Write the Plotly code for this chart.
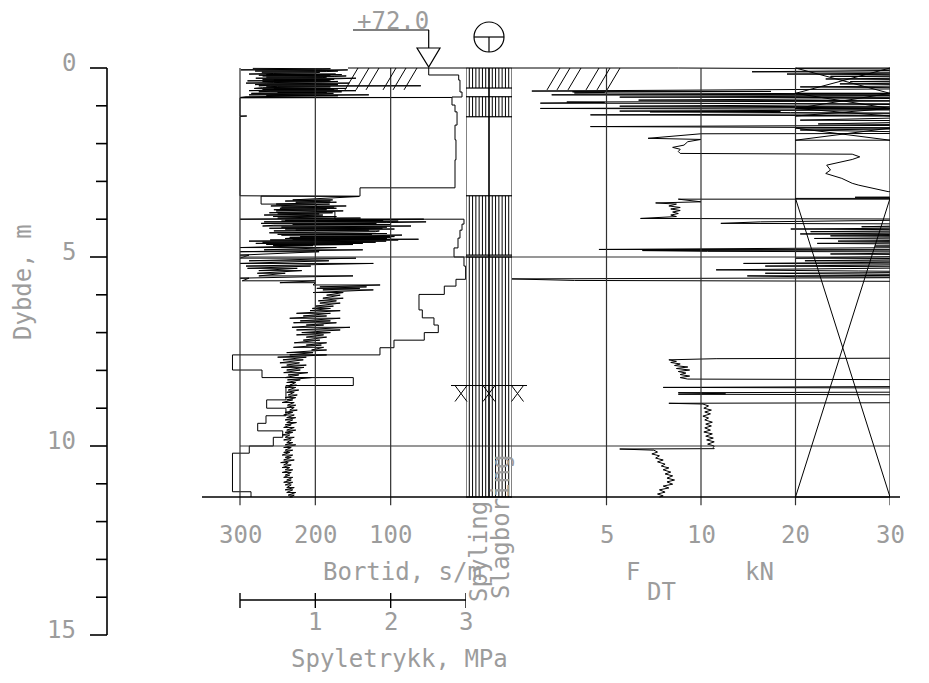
import plotly.graph_objects as go

W, H = 929, 683
ROW0, PPM = 68.0, 37.8          # pixel row of depth 0, pixels per metre


def px(x):
    return x / W


def py(y):
    return 1 - y / H


# ---------------- data ----------------
depth_major = [0, 5, 10, 15]
depth_minor = list(range(0, 16))
hole_bottom = 11.35
tick_depth = 11.57

# Bortid (s/m) step curve: value holds from each depth down to the next
bortid_depth = [0.00, 0.185, 0.32, 0.635, 0.767, 0.98, 1.16, 1.51, 1.90, 2.43,
                3.17, 3.39, 3.60, 3.80, 4.00, 4.13, 4.29, 4.50, 4.76, 5.00,
                5.24, 5.59, 5.77, 5.99, 6.40, 6.61, 6.80, 7.00, 7.20, 7.40,
                7.59, 7.99, 8.19, 8.40, 8.78, 9.00, 9.20, 9.40, 9.60, 9.77,
                10.00, 10.19, 11.21, 11.35]
bortid_value = [49.5, 9.7, 8.0, 5.3, 18.6, 14.6, 11.9, 14.6, 13.3, 14.6,
                140.7, 272, 199, 174, 2.7, 5.3, 8.0, 10.6, 15.9, 2.7,
                0.5, 13.3, 28.8, 62.4, 58, 42.5, 36.8, 55.4, 95.6, 114.2,
                310, 270.8, 149.6, 239, 264.6, 239, 265.5, 276.5, 243.3, 255.8,
                287.7, 310, 285.4, 285.4]

# Spyletrykk (MPa): swing at each logged depth (depth, low, high)
spyle_upper = [
    (0.01, 0.17, 0.94), (0.02, 0.40, 1.20), (0.03, 0.35, 1.10), (0.05, 0.01, 1.43),
    (0.065, 0.45, 1.25), (0.08, 0.20, 1.30), (0.095, 0.30, 1.15), (0.11, 0.29, 1.06),
    (0.13, 0.40, 1.00), (0.145, 0.45, 1.20), (0.16, 0.12, 1.27), (0.175, 0.35, 1.35),
    (0.19, 0.25, 1.20), (0.21, 0.30, 1.41), (0.225, 0.40, 1.25), (0.24, 0.35, 1.15),
    (0.255, 0.45, 1.10), (0.27, 0.21, 1.54), (0.285, 0.35, 1.30), (0.30, 0.30, 1.25),
    (0.32, 0.45, 1.20), (0.34, 0.10, 1.18), (0.355, 0.30, 1.30), (0.37, 0.40, 1.10),
    (0.385, 0.45, 1.25), (0.40, 0.08, 1.45), (0.42, 0.35, 1.20), (0.44, 0.20, 1.30),
    (0.455, 0.40, 1.35), (0.47, 0.25, 2.40), (0.485, 0.50, 1.10), (0.50, 0.35, 1.20),
    (0.52, 0.30, 1.25), (0.54, 0.19, 1.41), (0.555, 0.45, 1.30), (0.57, 0.30, 1.25),
    (0.585, 0.35, 1.20), (0.60, 0.12, 1.54), (0.615, 0.40, 1.30), (0.63, 0.25, 1.35),
    (0.65, 0.50, 1.15), (0.67, 0.15, 1.24), (0.69, 0.40, 1.10), (0.71, 0.12, 1.71),
    (0.735, 0.35, 1.30), (0.76, 0.08, 1.24), (0.78, 0.00, 2.81), (0.79, 0.00, 0.00),
    (1.26, 0.00, 0.00), (1.27, 0.00, 0.09), (1.28, 0.00, 0.00), (3.38, 0.00, 0.00),
]
spyle_middle = [
    (3.40, 0.97, 1.58), (3.49, 0.70, 1.23), (3.52, 0.60, 1.20), (3.55, 0.74, 1.28),
    (3.60, 0.48, 1.19), (3.65, 0.41, 1.41), (3.68, 0.55, 1.25), (3.71, 0.53, 1.28),
    (3.75, 0.45, 1.15), (3.78, 0.48, 1.37), (3.83, 0.39, 1.23), (3.86, 0.50, 1.05),
    (3.89, 0.32, 1.10), (3.93, 0.44, 1.28), (3.97, 0.50, 1.60), (4.00, 0.00, 2.44),
    (4.03, 0.60, 1.90), (4.05, 0.55, 2.10), (4.07, 0.32, 2.47), (4.09, 0.65, 1.95),
    (4.11, 0.28, 1.81), (4.14, 0.70, 2.00), (4.16, 0.45, 2.15), (4.18, 0.30, 2.27),
    (4.21, 0.55, 1.95), (4.24, 0.39, 1.89), (4.26, 0.60, 2.05), (4.29, 0.74, 1.71),
    (4.31, 0.45, 1.85), (4.33, 0.65, 1.80), (4.36, 0.39, 1.89), (4.38, 0.70, 1.95),
    (4.40, 0.50, 1.75), (4.42, 0.55, 2.15), (4.44, 0.61, 1.70), (4.46, 0.80, 2.05),
    (4.48, 0.66, 2.00), (4.50, 0.72, 1.73), (4.51, 0.60, 1.95), (4.53, 0.70, 2.37),
    (4.55, 0.40, 2.10), (4.58, 0.12, 1.94), (4.61, 0.30, 1.80), (4.64, 0.21, 1.63),
    (4.67, 0.35, 1.50), (4.70, 0.44, 0.97), (4.75, 0.00, 1.28), (4.81, 0.32, 1.63),
    (4.86, 0.00, 1.05), (4.95, 0.00, 0.12), (5.03, 0.00, 1.54), (5.10, 0.12, 1.18),
    (5.17, 0.00, 1.77), (5.24, 0.08, 0.94), (5.30, 0.10, 0.76), (5.36, 0.25, 0.82),
    (5.43, 0.23, 0.60), (5.50, 0.25, 1.50), (5.56, 0.00, 0.12), (5.63, 0.03, 1.00),
    (5.68, 0.53, 1.00),
]
spyle_lower = [
    (5.74, 0.97, 1.86), (5.79, 1.06, 1.68), (5.83, 1.02, 1.59), (5.87, 1.10, 1.77),
    (5.94, 0.97, 1.37), (6.01, 1.15, 1.33), (6.09, 1.10, 1.37), (6.16, 1.04, 1.28),
    (6.22, 1.06, 1.33), (6.30, 1.00, 1.24), (6.36, 0.96, 1.20), (6.42, 0.93, 1.33),
    (6.49, 0.75, 1.20), (6.56, 0.84, 1.15), (6.62, 0.66, 1.33), (6.69, 0.80, 1.20),
    (6.74, 0.71, 1.28), (6.80, 0.88, 1.11), (6.86, 0.69, 1.46), (6.93, 0.75, 1.33),
    (7.00, 0.82, 1.20), (7.06, 0.75, 1.11), (7.12, 0.88, 1.15), (7.20, 0.84, 1.06),
    (7.27, 0.72, 1.15), (7.33, 0.88, 1.08), (7.39, 0.71, 1.11), (7.46, 0.95, 1.15),
    (7.53, 0.62, 0.97), (7.59, 0.66, 1.15), (7.65, 0.50, 0.88), (7.72, 0.57, 0.84),
    (7.80, 0.53, 0.79), (7.86, 0.62, 0.88),
]
spyle_bottom = [
    (7.92, 0.55, 0.85), (7.99, 0.62, 0.80), (8.06, 0.58, 0.90), (8.12, 0.64, 0.78),
    (8.19, 0.60, 0.95), (8.25, 0.63, 0.80), (8.32, 0.62, 0.74), (8.39, 0.66, 0.75),
    (8.45, 0.60, 0.74), (8.52, 0.64, 0.78), (8.58, 0.62, 0.72), (8.65, 0.64, 0.76),
    (8.72, 0.60, 0.74), (8.78, 0.62, 0.70), (8.85, 0.56, 0.72), (8.92, 0.63, 0.74),
    (8.98, 0.62, 0.72), (9.05, 0.66, 0.76), (9.11, 0.60, 0.70), (9.18, 0.58, 0.72),
    (9.25, 0.62, 0.74), (9.31, 0.60, 0.70), (9.38, 0.62, 0.75), (9.44, 0.60, 0.68),
    (9.51, 0.58, 0.72), (9.58, 0.62, 0.74), (9.64, 0.60, 0.70), (9.71, 0.56, 0.66),
    (9.77, 0.60, 0.72), (9.84, 0.58, 0.68), (9.91, 0.62, 0.70), (9.97, 0.60, 0.74),
    (10.04, 0.58, 0.68), (10.11, 0.60, 0.70), (10.17, 0.58, 0.66), (10.24, 0.56, 0.70),
    (10.30, 0.60, 0.68), (10.37, 0.58, 0.72), (10.44, 0.54, 0.64), (10.50, 0.58, 0.68),
    (10.57, 0.56, 0.66), (10.63, 0.60, 0.70), (10.70, 0.56, 0.68), (10.77, 0.60, 0.66),
    (10.83, 0.58, 0.70), (10.90, 0.62, 0.68), (10.96, 0.58, 0.70), (11.03, 0.60, 0.68),
    (11.10, 0.62, 0.72), (11.16, 0.60, 0.70), (11.23, 0.62, 0.74), (11.30, 0.64, 0.72),
    (11.35, 0.66, 0.70),
]

# F_DT (kN) against depth; values above 30 kN run off the right edge
fdt_points = [
    (0.00, 0.0), (0.00, 8.8), (0.04, 40), (0.10, 15.4), (0.12, 40), (0.16, 19.1),
    (0.19, 40), (0.22, 23.7), (0.25, 40), (0.29, 23.2), (0.32, 40), (0.36, 25.8),
    (0.38, 40), (0.42, 24.7), (0.46, 40), (0.50, 20.5), (0.54, 40), (0.61, 1.05),
    (0.62, 17.4), (0.63, 3.2), (0.65, 4.9), (0.66, 3.3), (0.69, 40), (0.71, 2.1),
    (0.73, 40), (0.77, 5.7), (0.79, 40), (0.85, 6.7), (0.87, 40), (0.90, 2.9),
    (0.91, 4.9), (0.93, 1.5), (0.95, 40), (1.01, 5.7), (1.03, 40), (1.07, 1.5),
    (1.10, 40), (1.14, 5.7), (1.15, 18.4), (1.16, 7.3), (1.18, 19.5), (1.20, 40),
    (1.24, 4.15), (1.27, 40), (1.38, 20.5), (1.40, 40), (1.48, 22.4), (1.51, 40),
    (1.55, 4.15), (1.59, 40), (1.64, 20.5), (1.67, 40), (1.73, 40), (1.74, 10.0),
    (1.86, 7.2), (1.89, 10.0), (1.95, 9.3), (2.04, 9.1), (2.10, 8.5), (2.15, 8.9),
    (2.21, 8.8), (2.26, 8.9), (2.28, 26.0), (2.35, 26.8), (2.42, 26.0), (2.57, 23.3),
    (2.70, 23.7), (2.79, 23.2), (2.92, 24.9), (3.05, 26.0), (3.10, 26.7), (3.27, 29.8),
    (3.28, 40), (3.40, 40), (3.42, 26.3), (3.44, 40), (3.47, 40), (3.47, 8.8),
    (3.54, 10.0), (3.57, 7.6), (3.60, 8.7), (3.65, 8.3), (3.69, 8.9), (3.73, 8.4),
    (3.77, 8.9), (3.81, 8.5), (3.85, 8.8), (3.89, 8.4), (3.93, 8.7), (3.98, 6.8),
    (4.00, 40), (4.07, 16.3), (4.11, 12.1), (4.13, 40), (4.20, 27.0), (4.22, 40),
    (4.26, 19.5), (4.29, 40), (4.33, 21.6), (4.35, 40), (4.39, 20.5), (4.42, 40),
    (4.44, 23.7), (4.47, 40), (4.51, 22.0), (4.54, 40), (4.58, 24.5), (4.60, 40),
    (4.64, 22.3), (4.67, 40), (4.71, 28.4), (4.74, 40), (4.80, 4.6), (4.81, 40),
    (4.83, 6.9), (4.85, 10.7), (4.87, 40), (4.92, 23.7), (4.95, 40), (5.03, 20.0),
    (5.05, 40), (5.10, 21.0), (5.12, 40), (5.17, 14.5), (5.19, 40), (5.24, 16.8),
    (5.27, 40), (5.34, 11.6), (5.37, 26.7), (5.40, 40), (5.43, 16.8), (5.45, 24.5),
    (5.48, 40), (5.50, 14.9), (5.52, 20.2), (5.54, 40), (5.58, 0.0), (5.62, 3.3),
    (5.65, 40), (7.67, 40), (7.69, 11.6), (7.72, 8.3), (7.76, 8.7), (7.79, 8.4),
    (7.83, 8.9), (7.87, 8.6), (7.91, 9.3), (7.95, 8.7), (7.99, 9.4), (8.03, 8.8),
    (8.07, 9.2), (8.11, 8.9), (8.15, 9.4), (8.19, 8.9), (8.23, 9.3), (8.25, 40),
    (8.42, 40), (8.45, 8.0), (8.47, 40), (8.57, 40), (8.59, 8.8), (8.62, 12.6),
    (8.63, 8.8), (8.65, 40), (8.85, 40), (8.87, 8.3), (8.89, 10.2), (8.94, 10.8),
    (9.00, 10.3), (9.05, 11.1), (9.10, 10.4), (9.15, 11.0), (9.21, 10.2), (9.26, 10.8),
    (9.31, 10.4), (9.37, 11.2), (9.42, 10.5), (9.47, 11.1), (9.52, 10.4), (9.58, 11.0),
    (9.63, 10.3), (9.68, 11.2), (9.74, 10.5), (9.79, 11.3), (9.84, 10.6), (9.89, 11.4),
    (9.95, 10.7), (10.00, 11.4), (10.04, 11.3), (10.07, 11.4), (10.08, 5.7), (10.11, 7.5),
    (10.16, 7.7), (10.21, 7.4), (10.26, 7.8), (10.32, 7.6), (10.37, 8.0), (10.42, 7.7),
    (10.48, 8.1), (10.53, 7.9), (10.58, 8.3), (10.63, 8.0), (10.69, 8.4), (10.74, 8.1),
    (10.79, 8.5), (10.85, 8.2), (10.90, 8.6), (10.95, 8.2), (11.01, 8.5), (11.06, 8.0),
    (11.11, 8.3), (11.16, 7.8), (11.22, 8.1), (11.27, 7.7), (11.32, 8.0), (11.35, 7.8),
]

# Method column: depth intervals with flushing / percussion drilling
spyling_intervals = [(0.0, 0.53), (0.76, 1.29), (3.38, 4.95), (5.0, 11.35)]
slagboring_intervals = [(0.0, 0.53), (0.76, 1.29), (3.38, 4.95), (5.0, 11.35)]
marker_depth = 8.40

# Crossed boxes in the 20-30 kN band
cross_boxes = [(0.0, 0.67), (0.67, 1.07), (1.07, 1.27), (1.59, 1.91), (3.45, 11.35)]

bortid_ticks = [300, 200, 100]
fdt_ticks = [5, 10, 20, 30]
pressure_ticks = [0, 1, 2, 3]
pressure_labels = [1, 2, 3]


def fdt_axis(kn):
    # 0-10 kN on the first half of the band, 10-30 kN compressed on the second half
    return kn / 5.0 if kn <= 10 else 2.0 + (kn - 10) / 10.0


# ---------------- figure ----------------
fig = go.Figure()
INK = "black"
GRID = "#303030"
TXT = dict(family="DejaVu Sans Mono", size=24, color="#9c9c9c")

# Bortid step curve
fig.add_trace(go.Scatter(x=bortid_value, y=bortid_depth, xaxis="x", yaxis="y",
                         mode="lines", line=dict(color=INK, width=1, shape="vh"),
                         hoverinfo="skip"))

# Spyletrykk swing curve
sp_d, sp_v = [], []
for rows in (spyle_upper, spyle_middle, spyle_lower, spyle_bottom):
    for d, lo, hi in rows:
        sp_d += [d, d]
        sp_v += [lo, hi]
fig.add_trace(go.Scatter(x=sp_v, y=sp_d, xaxis="x2", yaxis="y", mode="lines",
                         line=dict(color=INK, width=1), hoverinfo="skip"))

# F_DT curve
fig.add_trace(go.Scatter(x=[fdt_axis(v) for _, v in fdt_points],
                         y=[d for d, _ in fdt_points], xaxis="x4", yaxis="y",
                         mode="lines", line=dict(color=INK, width=1), hoverinfo="skip"))

shapes = []


def line(x0, y0, x1, y1, xref="paper", yref="y", width=1.0, color=INK):
    shapes.append(dict(type="line", x0=x0, y0=y0, x1=x1, y1=y1, xref=xref, yref=yref,
                       line=dict(color=color, width=width), layer="above"))


# depth ruler
line(px(107), 0, px(107), 15, width=1.6)
for d in depth_minor:
    x0 = 90 if d in depth_major else 96
    line(px(x0), d, px(107), d, width=1.6)

# vertical grid of the left band
for b in bortid_ticks:
    line(b, 0, b, tick_depth, xref="x", color=GRID, width=1.2)
# vertical grid of the F_DT band
for v in fdt_ticks:
    line(fdt_axis(v), 0, fdt_axis(v), tick_depth, xref="x4", color=GRID, width=1.2)
# method column borders
for c in (0, 1, 2):
    line(c, 0, c, hole_bottom, xref="x3", color=GRID, width=2.0 if c == 1 else 1.2)

# horizontal grid at 5 and 10 m
for d in (5, 10):
    line(px(240), d, px(890), d, color=GRID, width=1.2)

# base line of the log
line(px(202), hole_bottom, px(900), hole_bottom, width=1.6)

# hatched method intervals
for offset, intervals in ((0, spyling_intervals), (1, slagboring_intervals)):
    for top, bot in intervals:
        for k in range(1, 7):
            line(offset + k / 7, top, offset + k / 7, bot, xref="x3", width=1)
        line(offset, top, offset + 1, top, xref="x3", width=1.2)
        line(offset, bot, offset + 1, bot, xref="x3", width=1.2)

# marker crosses across the column
line(px(451), marker_depth, px(527), marker_depth, width=1)
mark_bot = marker_depth + 16 / PPM
for cx in (461, 489, 517.5):
    line(px(cx - 6), marker_depth, px(cx + 6), mark_bot, width=1)
    line(px(cx + 6), marker_depth, px(cx - 6), mark_bot, width=1)

# crossed boxes in the 20-30 kN band
for top, bot in cross_boxes:
    line(3, top, 4, top, xref="x4", width=1)
    line(3, bot, 4, bot, xref="x4", width=1)
    line(3, top, 4, bot, xref="x4", width=1)
    line(4, top, 3, bot, xref="x4", width=1)

# ground surface with soil hatching
line(px(348), 0, px(466), 0, width=1.2)
for xb in (345, 356, 366, 383, 393, 404):
    line(px(xb), 0.58, px(xb + 13), 0.0, width=1)
for xb in (547, 557, 568, 586, 597, 607):
    line(px(xb), 0.58, px(xb + 13), 0.0, width=1)

# level symbol
shapes.append(dict(type="path", xref="paper", yref="paper",
                   path=f"M {px(417)},{py(48)} L {px(440)},{py(48)} L {px(428.7)},{py(67)} Z",
                   line=dict(color=INK, width=1.2)))
shapes.append(dict(type="line", xref="paper", yref="paper", x0=px(428.7), y0=py(30),
                   x1=px(428.7), y1=py(48), line=dict(color=INK, width=1.2)))
shapes.append(dict(type="line", xref="paper", yref="paper", x0=px(353), y0=py(30),
                   x1=px(429), y1=py(30), line=dict(color=INK, width=1.2)))

# borehole symbol
shapes.append(dict(type="circle", xref="paper", yref="paper", x0=px(474), x1=px(504),
                   y0=py(52), y1=py(22), line=dict(color=INK, width=1.2)))
shapes.append(dict(type="line", xref="paper", yref="paper", x0=px(474), y0=py(37),
                   x1=px(504), y1=py(37), line=dict(color=INK, width=1.2)))
shapes.append(dict(type="line", xref="paper", yref="paper", x0=px(489), y0=py(37),
                   x1=px(489), y1=py(52), line=dict(color=INK, width=1.2)))

# pressure scale bar
for p in pressure_ticks:
    shapes.append(dict(type="line", xref="x2", yref="paper", x0=p, x1=p, y0=py(593),
                       y1=py(608), line=dict(color=INK, width=1.4)))
shapes.append(dict(type="line", xref="x2", yref="paper", x0=pressure_ticks[0],
                   x1=pressure_ticks[-1], y0=py(600), y1=py(600),
                   line=dict(color=INK, width=1.4)))

annotations = []


def text(s, x, y, xref="paper", yref="paper", xanchor="center", yanchor="middle",
         angle=0, size=None, yshift=0):
    f = dict(TXT)
    if size:
        f["size"] = size
    annotations.append(dict(text=s, x=x, y=y, xref=xref, yref=yref, xanchor=xanchor,
                            yanchor=yanchor, textangle=angle, showarrow=False, font=f,
                            yshift=yshift))


for d in depth_major:
    text(str(d), px(78), d, yref="y", xanchor="right", yshift=5)
text("Dybde, m", px(23), py(282), angle=-90)
text("+72.0", px(431), py(21), xanchor="right")
for b in bortid_ticks:
    text(str(b), b, py(535), xref="x")
for v in fdt_ticks:
    text(str(v), fdt_axis(v), py(535), xref="x4")
text("Bortid, s/m", px(321), py(572), xanchor="left")
text("F", px(624), py(572), xanchor="left")
text("DT", px(645), py(592), xanchor="left")
text("kN", px(743), py(572), xanchor="left")
for p in pressure_labels:
    text(str(p), p, py(622), xref="x2")
text("Spyletrykk, MPa", px(289), py(659), xanchor="left")
text("Spyling", px(479), py(552), angle=-90)
text("Slagboring", px(501), py(527), angle=-90)

ax = dict(visible=False, showgrid=False, zeroline=False, fixedrange=True)
fig.update_layout(
    width=W, height=H, margin=dict(l=0, r=0, t=0, b=0),
    paper_bgcolor="white", plot_bgcolor="rgba(0,0,0,0)", showlegend=False,
    xaxis=dict(ax, domain=[px(228), px(466)], range=[(466 - 228) * 300 / 226, 0], anchor="y"),
    xaxis2=dict(ax, domain=[px(228), px(466)], range=[-12 * 3 / 226, 3], anchor="y",
                overlaying="x"),
    xaxis3=dict(ax, domain=[px(466), px(512)], range=[0, 2], anchor="y"),
    xaxis4=dict(ax, domain=[px(512), px(890)], range=[0, 4], anchor="y"),
    yaxis=dict(ax, domain=[0, 1], range=[(H - ROW0) / PPM, -ROW0 / PPM], anchor="x"),
    shapes=shapes, annotations=annotations,
)

fig.write_html("out.html")
